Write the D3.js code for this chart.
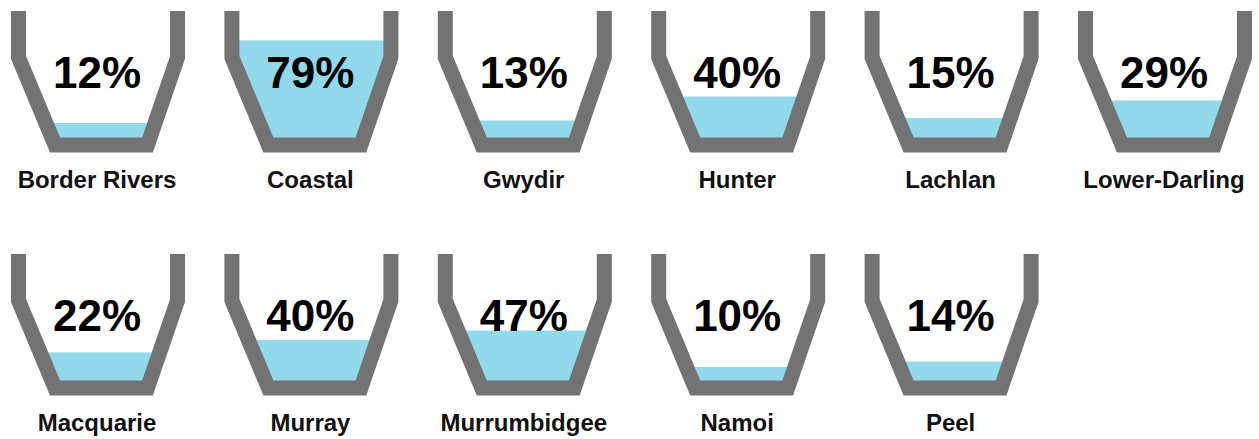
<!DOCTYPE html>
<html>
<head>
<meta charset="utf-8">
<script src="https://cdn.jsdelivr.net/npm/d3@7"></script>
<style>
    body { margin: 0; background: #fff; }
    text { font-family: "Liberation Sans", Arial, sans-serif; font-weight: bold; }
</style>
</head>
<body>
<div class="dams"></div>
<script>
// Dam names and storage percentages (label)
const dams = ["Border Rivers", "Coastal", "Gwydir", "Hunter", "Lachlan", "Lower-Darling",
    "Macquarie", "Murray", "Murrumbidgee", "Namoi", "Peel"];
const percents = [12, 79, 13, 40, 15, 29, 22, 40, 47, 10, 14];
// water level drawn in each vessel (% of vessel height)
const levels = [11.4, 78.5, 13.4, 32.9, 15.4, 29.7, 22.4, 32.5, 40.2, 10.6, 15];

const width = 1259;
const height = 439;
const perRow = 6;

// vessel geometry, local to one cell
const wall = 15;
const topY = 11;
const innerBottom = 137;

const col = d3.scaleLinear().domain([0, perRow - 1]).range([0, 1067]);
const row = d3.scaleLinear().domain([0, 1]).range([0, 243]);
const level = d3.scaleLinear().domain([0, 100]).range([innerBottom, 14]);

const svg = d3
    .select(".dams")
    .append("svg")
    .attr("width", width)
    .attr("height", height);

const data = dams.map((name, i) => ({
    name,
    pct: percents[i],
    level: levels[i],
    c: i % perRow,
    r: Math.floor(i / perRow),
}));

// centre line of the vessel wall
const outline = [[18.5, topY], [18.5, 57.5], [55, 145], [147.5, 145], [177.5, 57.5], [177.5, topY]];

// water is clipped to the centre line, the wall stroke hides the rest
svg.append("defs")
    .append("clipPath")
    .attr("id", "inside")
    .append("path")
    .attr("d", d3.line()(outline) + "Z");

const cell = svg
    .selectAll("g.dam")
    .data(data)
    .join("g")
    .attr("class", "dam")
    .attr("transform", (d) => `translate(${col(d.c)},${row(d.r)})`);

cell.append("rect")
    .attr("clip-path", "url(#inside)")
    .attr("x", 0)
    .attr("width", 200)
    .attr("y", (d) => level(d.level))
    .attr("height", (d) => 150 - level(d.level))
    .attr("fill", "#93d9ec");

cell.append("path")
    .attr("d", d3.line()(outline))
    .attr("fill", "none")
    .attr("stroke", "#737373")
    .attr("stroke-width", wall)
    .attr("stroke-linejoin", "miter");

cell.append("text")
    .attr("x", 97)
    .attr("y", 88)
    .attr("text-anchor", "middle")
    .attr("font-size", "44px")
    .attr("fill", "#000")
    .text((d) => d.pct + "%");

cell.append("text")
    .attr("x", 97)
    .attr("y", 188)
    .attr("text-anchor", "middle")
    .attr("font-size", "24px")
    .attr("fill", "#111")
    .text((d) => d.name);
</script>
</body>
</html>
